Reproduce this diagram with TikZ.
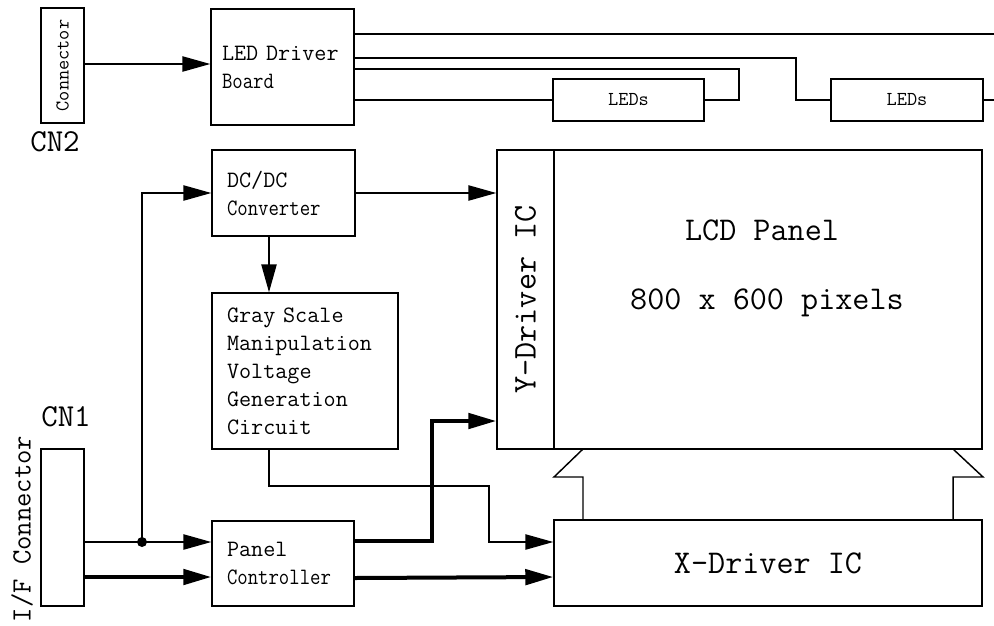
\documentclass[tikz,border=0pt]{standalone}
\usepackage{fontspec}
\usepackage{graphicx}
\usetikzlibrary{arrows.meta}
\newcommand{\myfs}[2]{\fontsize{#1}{#2}\selectfont}
\newcommand{\sq}[1]{\scalebox{0.86}[1]{#1}}
\begin{document}
\begin{tikzpicture}[x=0.75pt,y=-0.75pt,
  box/.style={draw,line width=1.1pt,inner ysep=0pt,font=\ttfamily\myfs{17.6pt}{21pt},align=left},
  sbox/.style={draw,line width=1.1pt,inner sep=0pt,font=\ttfamily\myfs{14.8pt}{17pt},align=center},
  bbox/.style={draw,line width=1.1pt,inner sep=0pt,font=\ttfamily\myfs{24.9pt}{29pt},align=center},
  big/.style={inner sep=0pt,font=\ttfamily\myfs{24.9pt}{29pt}},
  wire/.style={line width=1.1pt},
  bus/.style={line width=3pt},
  tip/.style={-{Triangle[length=21pt,width=11.5pt]}},
]
\useasboundingbox (0,0) rectangle (994,625);

% top part
\node[sbox,minimum width=32.25pt,minimum height=86.25pt] (cn2) at (62.5,65.5) {\rotatebox{90}{Connector}};
\node[big,font=\ttfamily\myfs{24pt}{29pt}] (cn2lab) at (55,142) {CN2};
\node[box,minimum height=87pt,inner xsep=8.25pt,text width=90.75pt] (led) at (282.5,67) {LED~Driver\\\sq{Board}};
\node[sbox,minimum width=113.25pt,minimum height=31.5pt] (leds1) at (628.5,100) {LEDs};
\node[sbox,minimum width=114pt,minimum height=31.5pt] (leds2) at (907,100) {LEDs};

% middle
\node[box,minimum height=64.5pt,inner xsep=11.25pt,text width=84.75pt] (dcdc) at (283.5,193) {DC/DC\\\sq{Converter}};
\node[box,minimum height=117pt,inner xsep=11.25pt,text width=117pt] (gray) at (305,371) {Gray~Scale\\Manipulation\\Voltage\\Generation\\Circuit};
\node[bbox,minimum width=42.75pt,minimum height=224.25pt] (ydrv) at (525.5,299.5) {\rotatebox{90}{Y-Driver IC}};
\node[draw,line width=1.1pt,minimum width=321pt,minimum height=224.25pt,inner sep=0pt] (lcd) at (768,299.5) {};
\node[big] (lcdA) at (762,230) {LCD Panel};
\node[big] (lcdB) at (767,303) {800 x 600 pixels};

% bottom
\node[big,font=\ttfamily\myfs{24pt}{29pt}] (cn1lab) at (66,417) {CN1};
\node[draw,line width=1.1pt,minimum width=32.25pt,minimum height=117.75pt,inner sep=0pt] (iff) at (62.5,527.5) {};
\node[inner sep=0pt,font=\ttfamily\myfs{20.9pt}{24pt}] (ifflab) at (22,529) {\rotatebox{90}{I/F Connector}};
\node[box,minimum height=63.75pt,inner xsep=11.25pt,text width=84pt] (pc) at (283,563.5) {Panel\\\sq{Controller}};
\node[bbox,minimum width=321pt,minimum height=64.5pt] (xdrv) at (768,563) {X-Driver IC};

% LED driver wiring
\coordinate (r1) at (994,34);
\coordinate (r2) at (994,0);
\draw[wire,tip] (cn2.east |- 0,64) -- (led.west |- 0,64);
\draw[wire] (led.east |- r1) -- (r1);
\draw[wire] (led.east |- 0,58) -- (796,58) |- (leds2.west);
\draw[wire] (led.east |- 0,69) -- (739,69) |- (leds1.east);
\draw[wire] (led.east |- leds1.west) -- (leds1.west);
\draw[wire] (leds2.east) -- (leds2.east -| r2);

% power wiring
\coordinate (j) at (142,542);
\draw[wire,tip] (iff.east |- j) -- (pc.west |- j);
\fill (j) circle (3.75pt);
\draw[wire,tip] (j) |- (dcdc.west);
\draw[wire,tip] (dcdc.east) -- (dcdc.east -| ydrv.west);
\draw[wire,tip] (dcdc.south -| 269,0) -- (gray.north -| 269,0);
\draw[wire,tip] (gray.south -| 269,0) -- (269,486) -- (489,486) -- (489,542) -- (xdrv.west |- 0,542);

% buses
\draw[bus,tip] (iff.east |- 0,577) -- (pc.west |- 0,577);
\draw[bus,tip] (pc.east |- 0,541) -- (432,541) -- (432,421) -- (ydrv.west |- 0,421);
\draw[bus,tip] (pc.east |- 0,578) -- (xdrv.west |- 0,577);

% flex connectors between panel and X driver
\draw[wire] (583,449) -- (554,477) -- (583,477) -- (583,520);
\draw[wire] (953,449) -- (983,477) -- (953,477) -- (953,520);
\end{tikzpicture}
\end{document}
